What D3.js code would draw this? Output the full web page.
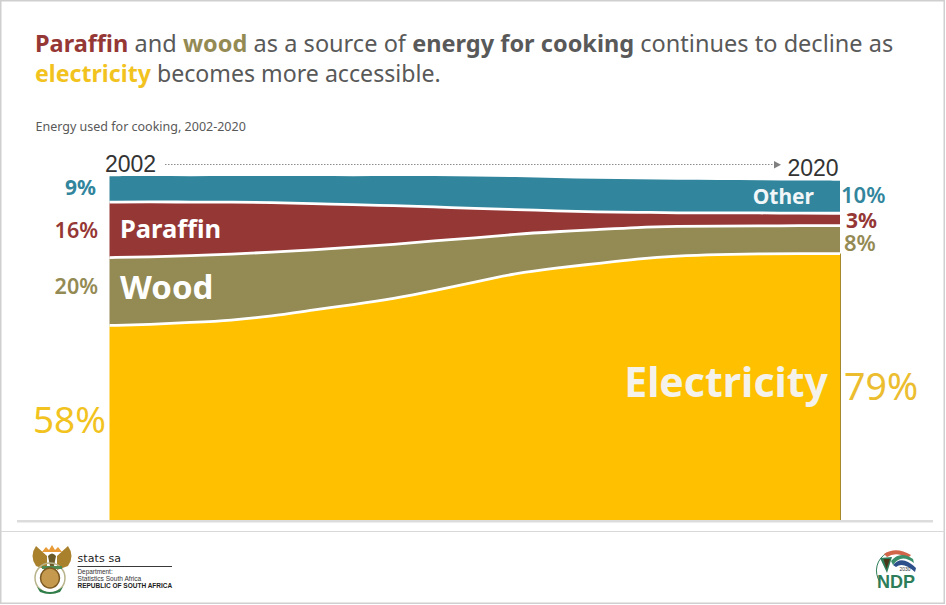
<!DOCTYPE html>
<html>
<head>
<meta charset="utf-8">
<script src="https://cdn.jsdelivr.net/npm/d3@7"></script>
<style>
html,body{margin:0;padding:0;background:#fff}
svg{display:block}
text{font-family:"Noto Sans","Open Sans",sans-serif}
</style>
</head>
<body>
<svg id="c" width="946" height="605"></svg>
<script>
const years = [2002,2003,2004,2005,2006,2007,2008,2009,2010,2011,2012,2013,2014,2015,2016,2017,2018,2019,2020];
const electricity = [57.9,58.2,58.8,59.4,60.7,62.5,64.1,65.9,68.2,70.8,73.4,75.0,76.3,77.7,78.6,79.0,79.2,79.3,79.3];
const wood = [20.2,20.1,19.9,19.7,19.0,17.9,17.1,16.1,14.9,13.1,11.7,10.8,10.1,9.4,8.8,8.5,8.3,8.3,8.3];
const paraffin = [16.5,16.4,15.9,15.5,14.8,13.8,12.6,11.6,10.1,8.8,7.3,6.2,5.3,4.5,4.0,3.9,3.9,3.7,3.7];
const other = [7.7,7.7,7.7,7.8,7.9,8.2,8.5,8.8,9.2,9.5,9.7,9.8,9.8,9.8,9.8,9.8,9.7,9.7,9.7];
const seriesNames = ["electricity","wood","paraffin","other"];
const seriesValues = {electricity,wood,paraffin,other};
const colors = {electricity:"#FFC000",wood:"#948A54",paraffin:"#953735",other:"#31859C"};

const svg = d3.select("#c");
const x = d3.scaleLinear().domain([2002,2020]).range([109.5,840]);
const y = d3.scaleLinear().domain([0,100]).range([520,184]);
const table = years.map((yr,i)=>{
  const o={year:yr};
  seriesNames.forEach(s=>o[s]=seriesValues[s][i]);
  return o;
});
const stacked = d3.stack().keys(seriesNames)(table);
const curve = d3.curveBasis;
const area = d3.area().x(d=>x(d.data.year)).y0(d=>y(d[0])).y1(d=>y(d[1])).curve(curve);
const topLine = d3.line().x(d=>x(d.data.year)).y(d=>y(d[1])).curve(curve);

// frame
svg.append("rect").attr("x",0.75).attr("y",0.75).attr("width",943.5).attr("height",602.5)
  .attr("fill","none").attr("stroke","#cfcfcf").attr("stroke-width",1.5);
svg.append("rect").attr("x",17).attr("y",520).attr("width",916).attr("height",2.5).attr("fill","#dcdcdc");
svg.append("line").attr("x1",1).attr("x2",945).attr("y1",531.5).attr("y2",531.5).attr("stroke","#d9d9d9").attr("stroke-width",1);

// areas
svg.append("g").selectAll("path").data(stacked).join("path")
  .attr("d",area).attr("fill",d=>colors[d.key]);
svg.append("g").selectAll("path").data(stacked.slice(0,3)).join("path")
  .attr("d",topLine).attr("fill","none").attr("stroke","#fff").attr("stroke-width",2.8);
svg.append("line").attr("x1",840.5).attr("x2",840.5).attr("y1",y(electricity[18])).attr("y2",520)
  .attr("stroke","#a58a2a").attr("stroke-width",1);

// title
const title = [
 [["Paraffin","#953735",700],[" and ","#595959",400],["wood","#948A54",700],[" as a source of ","#595959",400],["energy for cooking","#595959",700],[" continues to decline as","#595959",400]],
 [["electricity","#F2C31F",700],[" becomes more accessible.","#595959",400]]
];
title.forEach((ln,i)=>{
  const t=svg.append("text").attr("x",35).attr("y",[52,82][i]).attr("font-size",[23.5,23.15][i])
    .attr("word-spacing",[0.14,0][i]).style("white-space","pre");
  ln.forEach(p=>t.append("tspan").text(p[0]).attr("fill",p[1]).attr("font-weight",p[2]));
});
svg.append("text").attr("x",35.5).attr("y",131).attr("font-size",12.5).attr("fill","#595959").text("Energy used for cooking, 2002-2020");

// timeline
svg.append("text").attr("x",105).attr("y",171.5).attr("font-size",23).attr("fill","#333").style("font-family","'Liberation Sans',Arial,sans-serif").text("2002");
svg.append("text").attr("x",787.5).attr("y",176).attr("font-size",23).attr("fill","#333").style("font-family","'Liberation Sans',Arial,sans-serif").text("2020");
svg.append("line").attr("x1",165).attr("x2",775).attr("y1",164.5).attr("y2",164.5).attr("stroke","#8c8c8c").attr("stroke-width",1).attr("stroke-dasharray","1.5 1.5");
svg.append("path").attr("d","M774,161 L781,164.7 L774,168.5 Z").attr("fill","#808080");

// inner labels
const inner=[["Paraffin",120,238,25.5,"#fff","start"],["Wood",120,299,33,"#fff","start"],["Other",814,204,21,"#f1f6f8","end"],["Electricity",828,397,41,"#f4f2ea","end"]];
inner.forEach(d=>svg.append("text").attr("x",d[1]).attr("y",d[2]).attr("font-size",d[3]).attr("font-weight",700).attr("fill",d[4]).attr("text-anchor",d[5]).text(d[0]));

// percentage labels
const pctLabels=[["9%",96,195,21,"#31859C",700,"end"],["16%",98,238,21.5,"#953735",600,"end"],["20%",98,294,21.5,"#948A54",600,"end"],["58%",106,433,37,"#F2C31F",400,"end"],
 ["10%",841,203,22,"#31859C",600,"start"],["3%",846,228,21,"#953735",700,"start"],["8%",844,251,22,"#948A54",600,"start"],["79%",844,400,37.5,"#EBBD2F",400,"start"]];
pctLabels.forEach(d=>svg.append("text").attr("x",d[1]).attr("y",d[2]).attr("font-size",d[3]).attr("fill",d[4]).attr("font-weight",d[5]).attr("text-anchor",d[6]).text(d[0]));

// stats sa logo
const logo=svg.append("g");
logo.append("path").attr("d","M36,546 Q29,556 36,566 L47,570 L47,556 Z").attr("fill","#a9802c");
logo.append("path").attr("d","M68,546 Q75,556 68,566 L57,570 L57,556 Z").attr("fill","#a9802c");
logo.append("path").attr("d","M42,552 L46,547 L49,550 L52,545 L55,550 L58,547 L62,552 Z").attr("fill","#e79a35");
logo.append("path").attr("d","M48,556 Q52,551 56,556 L54,566 L50,566 Z").attr("fill","#6a5a2a");
logo.append("ellipse").attr("cx",50).attr("cy",578).attr("rx",15).attr("ry",15).attr("fill","none").attr("stroke","#b9b48c").attr("stroke-width",1.5);
logo.append("rect").attr("x",42).attr("y",566).attr("width",20).attr("height",3).attr("fill","#4f8a52");
logo.append("ellipse").attr("cx",50).attr("cy",578).attr("rx",9.5).attr("ry",10).attr("fill","#c69a4e").attr("stroke","#7c5a22").attr("stroke-width",1.5);
logo.append("path").attr("d","M37,587 Q50,597 63,587 L60,592 Q50,596 40,592 Z").attr("fill","#2f7d4a");
logo.append("text").attr("x",77.5).attr("y",562).attr("font-size",11).attr("fill","#222").style("font-family","'DejaVu Sans',sans-serif").attr("letter-spacing",0.1).text("stats sa");
logo.append("line").attr("x1",77.5).attr("x2",172).attr("y1",566.5).attr("y2",566.5).attr("stroke","#222").attr("stroke-width",0.9);
logo.append("text").attr("x",77.5).attr("y",573.5).attr("font-size",6.4).attr("fill","#333").style("font-family","'Liberation Sans',sans-serif").text("Department:");
logo.append("text").attr("x",77.5).attr("y",580.8).attr("font-size",6.6).attr("fill","#333").style("font-family","'Liberation Sans',sans-serif").text("Statistics South Africa");
logo.append("text").attr("x",77.5).attr("y",588).attr("font-size",6.5).attr("font-weight",700).attr("fill","#222").style("font-family","'Liberation Sans',sans-serif").text("REPUBLIC OF SOUTH AFRICA");

// NDP logo
const ndp=svg.append("g");
ndp.append("path").attr("d","M880,582 A20,20 0 0 1 887,553").attr("fill","none").attr("stroke","#2e7d5a").attr("stroke-width",1);
ndp.append("path").attr("d","M884,554 Q896,546 911,555 L908,558 Q896,551 887,557 Z").attr("fill","#d0654a");
ndp.append("path").attr("d","M880,558 L892,557 L887,573 Z").attr("fill","#2e7d5a");
ndp.append("path").attr("d","M883.5,559 L890,559 L886.5,569 Z").attr("fill","#4a3518");
ndp.append("path").attr("d","M893,565 Q902,554 916,568 L915,572 Q903,561 896,567 Z").attr("fill","#2d4f8a");
ndp.append("path").attr("d","M891,561 Q900,550 913,559 L914,563 Q901,553 893,565 Z").attr("fill","#3a8f6a");
ndp.append("text").attr("x",905).attr("y",571).attr("font-size",5).attr("fill","#333").attr("text-anchor","middle").style("font-family","'Liberation Sans',sans-serif").text("2030");
ndp.append("text").attr("x",896).attr("y",588).attr("font-size",18).attr("font-weight",700).attr("fill","#2e7d5a").attr("text-anchor","middle").style("font-family","'Liberation Sans',sans-serif").text("NDP");
</script>
</body>
</html>
